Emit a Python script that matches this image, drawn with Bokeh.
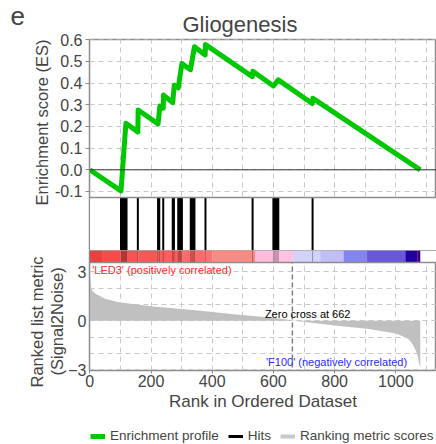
from bokeh.plotting import figure
from bokeh.layouts import column
from bokeh.models import (Range1d, FixedTicker, PrintfTickFormatter, Grid, Span,
                          Legend, LegendItem, Title, BoxAnnotation)
from bokeh.core.properties import value
from bokeh.embed import file_html
from bokeh.resources import INLINE

FONT = "Liberation Sans"

# ---------------- data ----------------
title_text = "Gliogenesis"
panel_letter = "e"

es_rank = [0, 102, 108, 113, 118, 157, 158, 223, 229, 240, 241, 271, 276, 289,
           301, 329, 342, 377, 378, 531, 533, 600, 616, 727, 729, 1080]
es_value = [0.0, -0.097, 0.02, 0.12, 0.215, 0.174, 0.276, 0.212, 0.295, 0.285,
            0.345, 0.31, 0.39, 0.378, 0.49, 0.462, 0.568, 0.53, 0.578, 0.43,
            0.455, 0.387, 0.415, 0.306, 0.33, 0.0]

hits = [102, 105, 108, 111, 114, 117, 120, 157, 223, 227, 240, 271, 275, 289,
        293, 297, 301, 330, 334, 338, 342, 378, 532, 600, 604, 608, 612, 616, 728]

metric_rank = [0, 2, 5, 10, 20, 30, 50, 95, 200, 300, 370, 470, 580, 645, 662,
               690, 800, 906, 1000, 1015, 1040, 1050, 1060, 1066, 1072, 1076, 1080]
metric_val = [2.9, 2.5, 2.0, 1.8, 1.65, 1.55, 1.36, 1.14, 0.9, 0.72, 0.6, 0.4,
              0.22, 0.08, 0.0, -0.05, -0.29, -0.49, -0.78, -0.88, -1.1, -1.3,
              -1.6, -1.85, -2.2, -2.6, -2.85]

zero_cross = 662

cb_start = [0, 40, 100, 159, 224, 303, 378, 400, 541, 601, 665, 753, 829, 906, 1031, 1070]
cb_end = [40, 100, 159, 224, 303, 378, 400, 541, 601, 665, 753, 829, 906, 1031, 1070, 1080]
cb_colors = ["#e8403f", "#f84c4c", "#fa5252", "#f95757", "#fa5f5f", "#ff6a6a",
             "#ff7272", "#ff8a84", "#ffbcdc", "#ffc2e2", "#d2d2fa", "#c2bef6",
             "#8484f0", "#6a56da", "#22009e", "#420080"]

es_ticks = [-0.1, 0.0, 0.1, 0.2, 0.3, 0.4, 0.5, 0.6]
metric_ticks = [-3, 0, 3]
metric_grid = [-3, -2, -1, 0, 1, 2, 3]
rank_ticks = [0, 200, 400, 600, 800, 1000]
rank_grid = [0, 100, 200, 300, 400, 500, 600, 700, 800, 900, 1000, 1100]

pos_label = "'LED3' (positively correlated)"
neg_label = "'F100' (negatively correlated)"
legend_labels = ["Enrichment profile", "Hits", "Ranking metric scores"]

# ---------------- layout / styles ----------------
GRID_COLOR = "#c8c8c8"
FRAME_COLOR = "#8c8c8c"
GREEN = "#00c800"
ES_BOTTOM = -0.128      # lower edge of the ES panel (hits strip below it)
CB_BOTTOM = 3.58        # lower edge of the colour strip in metric units

x_range = Range1d(-1, 1133)


def style_frame(p):
    p.outline_line_color = FRAME_COLOR
    p.outline_line_width = 1.5
    p.background_fill_color = "white"
    p.border_fill_color = "white"


def style_y(ax, ticks, tick_out, standoff):
    ax.ticker = FixedTicker(ticks=ticks)
    ax.major_label_text_font = FONT
    ax.major_label_text_font_size = "16px"
    ax.major_label_standoff = standoff
    ax.major_tick_out = tick_out
    ax.major_tick_in = 0
    ax.minor_tick_line_color = None
    ax.axis_line_color = FRAME_COLOR
    ax.major_tick_line_color = FRAME_COLOR


def side_title(text, offset, standoff, size="16.5px"):
    return Title(text=text, align="left", offset=offset, standoff=standoff,
                 text_font=FONT, text_font_size=size,
                 text_font_style="normal")


# ---------------- top: enrichment score + hits ----------------
es_range = Range1d(-0.3724, 0.6014)
p1 = figure(width=436, height=250, x_range=x_range, y_range=es_range,
            output_backend="svg", toolbar_location=None, x_axis_type=None,
            min_border_left=89, min_border_right=0, min_border_top=39,
            min_border_bottom=0)
style_frame(p1)
p1.title.text = ""
p1.add_layout(side_title(title_text, 93, 4.5, "22px"), "above")
p1.add_layout(side_title(panel_letter, -79, -35, "26px"), "above")

style_y(p1.yaxis[0], es_ticks, 4, 3)
p1.yaxis[0].formatter = PrintfTickFormatter(format="%.1f")
p1.add_layout(side_title("Enrichment score (ES)", 45, 1), "left")

p1.ygrid.ticker = FixedTicker(ticks=es_ticks)
p1.ygrid.grid_line_color = GRID_COLOR
p1.ygrid.grid_line_dash = "5 4"
p1.add_layout(Grid(dimension=0, ticker=FixedTicker(ticks=rank_grid),
                   grid_line_color=GRID_COLOR, grid_line_dash="5 4"))
p1.add_layout(BoxAnnotation(top=ES_BOTTOM, fill_color="white", fill_alpha=1,
                            line_color=None, level="underlay"))
p1.add_layout(Span(location=0, dimension="width", line_color="#333333", line_width=1))
p1.add_layout(Span(location=ES_BOTTOM, dimension="width", line_color=FRAME_COLOR,
                   line_width=1.5))
p1.line(es_rank, es_value, line_color=GREEN, line_width=5, line_join="round")
p1.segment(x0=hits, y0=ES_BOTTOM, x1=hits, y1=es_range.start, line_color="black",
           line_width=2)

# ---------------- bottom: colour strip + ranked list metric ----------------
m_range = Range1d(-3.049, 4.313)
p3 = figure(width=436, height=164, x_range=x_range, y_range=m_range,
            output_backend="svg", toolbar_location=None,
            min_border_left=89, min_border_right=0, min_border_top=0,
            min_border_bottom=44)
style_frame(p3)
xa = p3.xaxis[0]
xa.ticker = FixedTicker(ticks=rank_ticks)
xa.axis_label = "Rank in Ordered Dataset"
xa.axis_label_text_font = FONT
xa.axis_label_text_font_size = "17px"
xa.axis_label_text_font_style = "normal"
xa.axis_label_standoff = 2
xa.major_label_text_font = FONT
xa.major_label_text_font_size = "16px"
xa.major_label_standoff = 1
xa.major_tick_out = 3
xa.major_tick_in = 0
xa.minor_tick_line_color = None
xa.axis_line_color = FRAME_COLOR
xa.major_tick_line_color = FRAME_COLOR

style_y(p3.yaxis[0], metric_ticks, 0, 3)
p3.add_layout(side_title("(Signal2Noise)", -5, 0), "left")
p3.add_layout(side_title("Ranked list metric", -17, 0), "left")

p3.xgrid.ticker = FixedTicker(ticks=rank_grid)
p3.ygrid.ticker = FixedTicker(ticks=metric_grid)
for g in (p3.xgrid, p3.ygrid):
    g.grid_line_color = GRID_COLOR
    g.grid_line_dash = "5 4"
p3.add_layout(BoxAnnotation(bottom=CB_BOTTOM, fill_color="white", fill_alpha=1,
                            line_color=None, level="underlay"))
p3.add_layout(Span(location=zero_cross, dimension="height", line_color="#808080",
                   line_dash="5 3", line_width=1.5, level="underlay"))

p3.quad(left=cb_start, right=cb_end, bottom=CB_BOTTOM, top=m_range.end,
        fill_color=cb_colors, line_color=None)
p3.segment(x0=hits, y0=CB_BOTTOM, x1=hits, y1=m_range.end, line_color="black",
           line_alpha=0.3, line_width=1)
p3.add_layout(Span(location=CB_BOTTOM, dimension="width", line_color=FRAME_COLOR,
                   line_width=1.5))

p3.varea(x=metric_rank, y1=0, y2=metric_val, fill_color="#c0c0c0")
p3.text(x=[8], y=[3.09], text=[pos_label], text_color="#ff2a2a",
        text_font=value(FONT), text_font_size="11px", text_baseline="middle",
        text_align="left")
p3.text(x=[712], y=[0.42], text=["Zero cross at %d" % zero_cross],
        text_color="black", text_font=value(FONT), text_font_size="11px",
        text_baseline="middle", text_align="center")
p3.text(x=[1037], y=[-2.5], text=[neg_label], text_color="#2a2aff",
        text_font=value(FONT), text_font_size="11px", text_baseline="middle",
        text_align="right")

# ---------------- legend strip (proxies lie outside its visible range) ----------------
p4 = figure(width=436, height=30, x_range=x_range, y_range=Range1d(100, 101),
            output_backend="svg", toolbar_location=None,
            x_axis_type=None, y_axis_type=None, min_border=0)
p4.outline_line_color = None
r_es = p4.line(es_rank, es_value, line_color=GREEN, line_width=5)
r_hit = p4.segment(x0=hits, y0=0, x1=hits, y1=1, line_color="black", line_width=3)
r_rm = p4.line(metric_rank, metric_val, line_color="#c8c8c8", line_width=4)
legend = Legend(items=[LegendItem(label=legend_labels[0], renderers=[r_es]),
                       LegendItem(label=legend_labels[1], renderers=[r_hit]),
                       LegendItem(label=legend_labels[2], renderers=[r_rm])],
                orientation="horizontal", location=(1, 1),
                border_line_color=None, background_fill_alpha=0,
                label_text_font=FONT, label_text_font_size="13.5px",
                glyph_width=15, glyph_height=10, label_standoff=5, spacing=9,
                padding=0, margin=0)
p4.add_layout(legend, "center")

layout = column(p1, p3, p4, spacing=0)
open("out.html", "w").write(file_html(layout, INLINE))
